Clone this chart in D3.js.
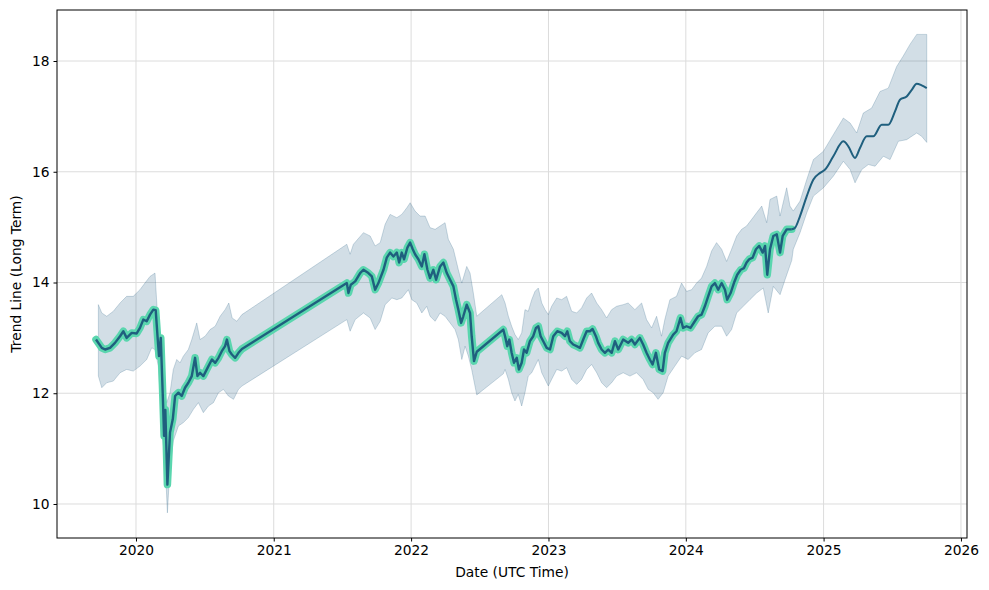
<!DOCTYPE html>
<html>
<head>
<meta charset="utf-8">
<script src="https://cdn.jsdelivr.net/npm/d3@7"></script>
<style>
  html, body { margin: 0; padding: 0; background: #ffffff; }
  svg text { font-family: "DejaVu Sans", sans-serif; fill: #000; }
</style>
</head>
<body>
<svg id="chart" width="989" height="590"></svg>
<script>
// ---- Data (dates as decimal years) ----
const histYears = [2019.709,2019.751,2019.775,2019.811,2019.847,2019.884,2019.908,2019.932,2019.969,2020.005,
  2020.029,2020.053,2020.078,2020.102,2020.126,2020.143,2020.158,2020.167,2020.180,2020.194,
  2020.204,2020.213,2020.228,2020.247,2020.267,2020.284,2020.308,2020.332,2020.356,2020.380,
  2020.405,2020.429,2020.446,2020.465,2020.489,2020.526,2020.551,2020.575,2020.599,2020.623,
  2020.647,2020.660,2020.679,2020.696,2020.720,2020.744,2020.769,
  2021.532,2021.544,2021.561,2021.593,2021.629,2021.653,2021.689,2021.714,2021.738,2021.762,
  2021.799,2021.823,2021.847,2021.871,2021.896,2021.913,2021.932,2021.949,2021.973,2021.993,
  2022.012,2022.029,2022.053,2022.078,2022.097,2022.119,2022.138,2022.162,2022.182,2022.211,
  2022.235,2022.260,2022.284,2022.308,2022.327,2022.344,2022.364,2022.380,2022.405,2022.429,
  2022.441,2022.458,2022.478,
  2022.671,2022.684,2022.700,2022.715,2022.732,2022.749,2022.769,2022.785,2022.805,2022.822,
  2022.841,2022.865,2022.889,2022.909,2022.926,2022.943,2022.962,2022.987,2023.011,2023.035,
  2023.064,2023.096,2023.120,2023.137,2023.156,2023.180,2023.205,2023.229,2023.253,2023.278,
  2023.302,2023.321,2023.345,2023.362,2023.387,2023.411,2023.435,2023.460,2023.484,2023.508,
  2023.544,2023.580,2023.605,2023.629,2023.665,2023.689,2023.714,2023.738,2023.758,2023.782,
  2023.806,2023.831,2023.847,2023.871,2023.908,2023.932,2023.961,2023.980,2024.005,2024.034,
  2024.065,2024.089,2024.114,2024.138,2024.162,2024.187,2024.211,2024.235,2024.260,2024.284,
  2024.300,2024.325,2024.349,2024.373,2024.398,2024.422,2024.441,2024.460,2024.485,2024.509,
  2024.533,2024.558,2024.575,2024.591,2024.611,2024.635,2024.660,2024.684,2024.703,2024.732,
  2024.769];
const histTrend = [12.97,12.82,12.79,12.82,12.91,13.03,13.12,13.00,13.09,13.08,
  13.18,13.33,13.30,13.42,13.51,13.50,12.97,12.67,13.00,12.00,
  11.23,11.70,10.35,11.29,11.53,11.95,12.01,11.95,12.10,12.19,
  12.31,12.64,12.31,12.37,12.31,12.49,12.61,12.55,12.64,12.76,
  12.85,12.97,12.76,12.70,12.64,12.73,12.80,
  13.99,13.81,13.96,14.02,14.17,14.23,14.17,14.11,13.87,13.99,
  14.23,14.45,14.54,14.47,14.54,14.36,14.54,14.42,14.63,14.72,
  14.60,14.51,14.42,14.29,14.51,14.23,14.08,14.23,14.05,14.29,
  14.36,14.17,14.05,13.93,13.69,13.51,13.27,13.39,13.60,13.45,
  13.03,12.58,12.75,
  13.15,13.03,12.85,12.97,12.73,12.55,12.64,12.43,12.55,12.79,
  12.73,12.94,13.03,13.18,13.21,13.03,12.94,12.82,12.79,13.03,
  13.12,13.09,13.03,13.12,12.94,12.88,12.85,12.82,12.97,13.12,
  13.12,13.16,13.03,12.91,12.79,12.73,12.79,12.73,12.94,12.79,
  12.97,12.91,12.97,12.88,13.00,12.88,12.73,12.61,12.52,12.73,
  12.43,12.40,12.73,12.91,13.06,13.12,13.36,13.18,13.21,13.18,
  13.30,13.39,13.42,13.57,13.75,13.93,13.99,13.87,13.99,13.87,
  13.69,13.81,13.99,14.14,14.23,14.26,14.36,14.42,14.45,14.60,
  14.66,14.54,14.66,14.14,14.60,14.84,14.87,14.54,14.84,14.96,
  14.96];

const forecastYears = [2024.793,2024.829,2024.878,2024.926,2024.975,2025.011,2025.071,2025.144,2025.180,2025.229,
  2025.265,2025.314,2025.362,2025.423,2025.471,2025.520,2025.556,2025.605,2025.642,2025.678,
  2025.714,2025.751];
const forecastTrend = [14.99,15.20,15.56,15.86,15.98,16.04,16.28,16.55,16.46,16.25,
  16.43,16.64,16.64,16.85,16.85,17.09,17.30,17.36,17.48,17.59,
  17.56,17.51];

const upperYears = [2019.726,2019.751,2019.787,2019.835,2019.884,2019.932,2019.980,2020.029,2020.065,2020.102,
  2020.138,2020.151,2020.162,2020.175,2020.187,2020.204,2020.223,2020.247,2020.271,2020.296,
  2020.320,2020.344,2020.380,2020.405,2020.441,2020.465,2020.502,2020.538,2020.575,2020.611,
  2020.647,2020.674,2020.698,2020.732,2020.769,
  2021.532,2021.556,2021.580,2021.653,2021.702,2021.738,2021.775,2021.811,2021.847,2021.896,
  2021.932,2021.969,2021.993,2022.029,2022.065,2022.102,2022.138,2022.175,2022.211,2022.247,
  2022.271,2022.308,2022.344,2022.369,2022.405,2022.429,2022.453,2022.478,
  2022.660,2022.684,2022.708,2022.732,2022.756,2022.780,2022.805,2022.829,2022.853,2022.878,
  2022.902,2022.926,2022.951,2022.975,2022.999,2023.023,2023.060,2023.096,2023.132,2023.169,
  2023.205,2023.241,2023.278,2023.314,2023.351,2023.387,2023.423,2023.460,2023.496,2023.544,
  2023.580,2023.629,2023.678,2023.714,2023.751,2023.787,2023.823,2023.847,2023.884,2023.932,
  2023.969,2024.005,2024.042,2024.078,2024.114,2024.151,2024.187,2024.223,2024.260,2024.296,
  2024.332,2024.369,2024.405,2024.441,2024.478,2024.514,2024.551,2024.587,2024.611,2024.660,
  2024.684,2024.732,2024.756,2024.780,2024.829,2024.878,2024.926,2024.999,2025.071,2025.144,
  2025.193,2025.241,2025.289,2025.350,2025.411,2025.471,2025.532,2025.580,2025.629,2025.678,
  2025.714,2025.751];
const upperValues = [13.60,13.45,13.39,13.48,13.63,13.75,13.75,13.87,13.99,14.11,
  14.17,13.63,13.21,12.91,12.67,12.01,11.83,12.01,12.43,12.61,
  12.55,12.67,12.79,12.97,13.27,12.97,13.03,13.15,13.21,13.39,
  13.51,13.63,13.36,13.30,13.42,
  14.69,14.51,14.69,14.90,14.84,14.66,14.72,15.05,15.23,15.17,
  15.23,15.35,15.44,15.29,15.20,15.20,14.99,14.96,15.02,15.08,
  14.78,14.60,14.23,13.99,14.29,14.17,13.81,13.39,
  13.78,13.63,13.39,13.21,13.06,12.97,13.09,13.51,13.48,13.69,
  13.84,13.90,13.63,13.51,13.42,13.57,13.72,13.69,13.75,13.48,
  13.45,13.54,13.72,13.81,13.63,13.51,13.36,13.51,13.57,13.60,
  13.63,13.51,13.63,13.33,13.18,13.39,13.03,13.33,13.69,13.75,
  13.99,13.84,13.87,13.99,14.08,14.29,14.57,14.72,14.60,14.38,
  14.60,14.84,14.96,15.02,15.14,15.26,15.38,15.08,15.50,15.56,
  15.20,15.71,15.38,15.29,15.47,15.86,16.22,16.37,16.67,16.97,
  16.88,16.70,17.06,17.15,17.45,17.51,17.90,18.09,18.30,18.48,
  18.48,18.48];

const lowerYears = [2019.726,2019.751,2019.787,2019.835,2019.884,2019.932,2019.980,2020.029,2020.078,2020.114,
  2020.138,2020.162,2020.180,2020.194,2020.211,2020.228,2020.247,2020.271,2020.308,2020.344,
  2020.380,2020.417,2020.453,2020.489,2020.526,2020.562,2020.599,2020.635,2020.671,2020.708,
  2020.744,2020.769,
  2021.532,2021.556,2021.593,2021.653,2021.702,2021.738,2021.775,2021.811,2021.860,2021.896,
  2021.932,2021.980,2022.005,2022.041,2022.078,2022.114,2022.138,2022.175,2022.211,2022.247,
  2022.284,2022.320,2022.344,2022.369,2022.393,2022.417,2022.441,2022.465,2022.478,
  2022.671,2022.684,2022.708,2022.732,2022.756,2022.780,2022.805,2022.829,2022.853,2022.878,
  2022.902,2022.926,2022.951,2022.975,2022.999,2023.023,2023.060,2023.096,2023.132,2023.169,
  2023.205,2023.241,2023.278,2023.314,2023.351,2023.387,2023.423,2023.460,2023.496,2023.544,
  2023.593,2023.641,2023.689,2023.726,2023.762,2023.798,2023.835,2023.871,2023.920,2023.969,
  2024.017,2024.065,2024.114,2024.162,2024.211,2024.260,2024.296,2024.332,2024.369,2024.417,
  2024.465,2024.514,2024.562,2024.598,2024.635,2024.684,2024.720,2024.769,2024.780,2024.829,
  2024.878,2024.926,2024.999,2025.071,2025.144,2025.193,2025.229,2025.278,2025.326,2025.375,
  2025.435,2025.484,2025.544,2025.605,2025.678,2025.714,2025.751];
const lowerValues = [12.31,12.10,12.19,12.22,12.37,12.43,12.40,12.49,12.61,12.82,
  12.79,12.49,11.83,11.17,10.80,9.84,10.68,11.14,11.41,11.47,
  11.56,11.71,11.83,11.65,11.77,11.83,12.01,12.07,11.95,11.89,
  12.07,12.13,
  13.33,13.12,13.33,13.45,13.36,13.15,13.30,13.60,13.72,13.69,
  13.72,13.87,13.69,13.63,13.45,13.57,13.39,13.30,13.45,13.39,
  13.27,13.15,12.97,12.61,12.85,12.67,12.43,12.13,11.97,
  12.35,12.43,12.25,12.01,11.86,11.98,11.77,12.01,12.31,12.37,
  12.49,12.61,12.37,12.25,12.13,12.25,12.43,12.40,12.46,12.25,
  12.16,12.25,12.43,12.52,12.37,12.19,12.10,12.19,12.31,12.37,
  12.31,12.37,12.25,12.07,12.01,11.89,12.01,12.31,12.49,12.67,
  12.61,12.73,12.79,13.09,13.21,13.21,13.03,13.15,13.45,13.57,
  13.69,13.81,13.90,13.45,13.93,13.78,14.05,14.40,14.60,14.90,
  15.26,15.56,15.71,15.92,16.19,16.04,15.80,16.04,16.13,16.10,
  16.28,16.22,16.55,16.58,16.70,16.64,16.53];

const yTicks = [10, 12, 14, 16, 18];
const xTickYears = [2020, 2021, 2022, 2023, 2024, 2025, 2026];
const xLabel = "Date (UTC Time)";
const yLabel = "Trend Line (Long Term)";

// ---- Helpers ----
function yd(y) {
  const Y = Math.floor(y);
  const s = Date.UTC(Y, 0, 1), e = Date.UTC(Y + 1, 0, 1);
  return new Date(s + (y - Y) * (e - s));
}

const W = 989, H = 590;
const m = { left: 57, top: 10, right: 967, bottom: 538 };

const x = d3.scaleUtc()
  .domain([yd(2019.425), yd(2026.044)])
  .range([m.left, m.right]);
const y = d3.scaleLinear()
  .domain([9.386, 18.921])
  .range([m.bottom, m.top]);

const svg = d3.select("#chart");

// grid
const grid = svg.append("g");
grid.selectAll("line.v").data(xTickYears).join("line")
  .attr("x1", d => x(yd(d))).attr("x2", d => x(yd(d)))
  .attr("y1", m.top).attr("y2", m.bottom)
  .attr("stroke", "#dcdcdc").attr("stroke-width", 1);
grid.selectAll("line.h").data(yTicks).join("line")
  .attr("x1", m.left).attr("x2", m.right)
  .attr("y1", d => y(d)).attr("y2", d => y(d))
  .attr("stroke", "#dcdcdc").attr("stroke-width", 1);

// band
const upperPts = upperYears.map((t, i) => [x(yd(t)), y(upperValues[i])]);
const lowerPts = lowerYears.map((t, i) => [x(yd(t)), y(lowerValues[i])]).reverse();
const bandPath = d3.line()([...upperPts, ...lowerPts]) + "Z";
svg.append("path")
  .attr("d", bandPath)
  .attr("fill", "#1f5a80").attr("fill-opacity", 0.2)
  .attr("stroke", "#1f5a80").attr("stroke-opacity", 0.22)
  .attr("stroke-width", 1).attr("stroke-linejoin", "round");

// lines
const hist = histYears.map((t, i) => ({ d: yd(t), v: histTrend[i] }));
const fc = forecastYears.map((t, i) => ({ d: yd(t), v: forecastTrend[i] }));
const lineGen = d3.line().x(p => x(p.d)).y(p => y(p.v));

svg.append("path")
  .attr("d", lineGen(hist))
  .attr("fill", "none").attr("stroke", "#5ad6ae")
  .attr("stroke-width", 7.5).attr("stroke-linejoin", "round").attr("stroke-linecap", "round");

svg.append("path")
  .attr("d", lineGen(hist))
  .attr("fill", "none").attr("stroke", "#1f5f7e")
  .attr("stroke-width", 2.4).attr("stroke-linejoin", "round");

const fcLine = d3.line().x(p => x(p.d)).y(p => y(p.v)).curve(d3.curveMonotoneX);
svg.append("path")
  .attr("d", fcLine([hist[hist.length - 1], ...fc]))
  .attr("fill", "none").attr("stroke", "#1f5f7e")
  .attr("stroke-width", 2).attr("stroke-linejoin", "round");

// frame
svg.append("rect")
  .attr("x", m.left).attr("y", m.top)
  .attr("width", m.right - m.left).attr("height", m.bottom - m.top)
  .attr("fill", "none").attr("stroke", "#000").attr("stroke-width", 1);

// axes
const xAxis = d3.axisBottom(x)
  .tickValues(xTickYears.map(yd))
  .tickFormat(d3.utcFormat("%Y"))
  .tickSize(3.5).tickPadding(4);
const gx = svg.append("g").attr("transform", `translate(0,${m.bottom})`).call(xAxis);
gx.select(".domain").remove();
gx.selectAll("text").style("font-size", "13.8px").attr("fill", "#000");
gx.selectAll("line").attr("stroke", "#000");

const yAxis = d3.axisLeft(y).tickValues(yTicks).tickFormat(d3.format("d"))
  .tickSize(3.5).tickPadding(4);
const gy = svg.append("g").attr("transform", `translate(${m.left},0)`).call(yAxis);
gy.select(".domain").remove();
gy.selectAll("text").style("font-size", "13.8px").attr("fill", "#000");
gy.selectAll("line").attr("stroke", "#000");

svg.append("text")
  .attr("x", (m.left + m.right) / 2).attr("y", 577)
  .attr("text-anchor", "middle").style("font-size", "13.8px")
  .text(xLabel);

svg.append("text")
  .attr("transform", `translate(21,${(m.top + m.bottom) / 2}) rotate(-90)`)
  .attr("text-anchor", "middle").style("font-size", "13.8px")
  .text(yLabel);
</script>
</body>
</html>
